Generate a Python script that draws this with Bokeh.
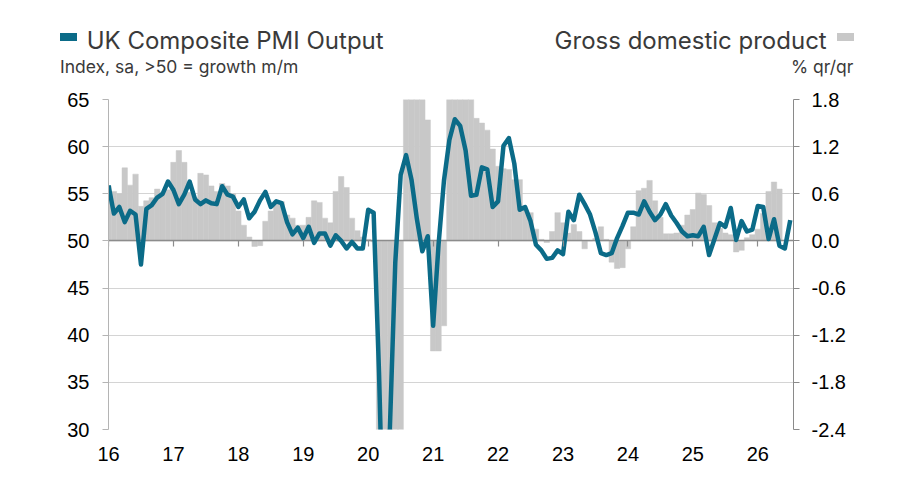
from bokeh.plotting import figure
from bokeh.layouts import column
from bokeh.models import Range1d, LinearAxis, FixedTicker, PrintfTickFormatter, Div
from bokeh.embed import file_html
from bokeh.resources import INLINE

# ---------------- data (monthly, starting Jan 2016) ----------------
START_YEAR = 2016

pmi_2016 = [55.9, 52.9, 53.6, 52.0, 53.2, 52.8, 47.5, 53.4, 53.8, 54.6, 55.0, 56.3]
pmi_2017 = [55.4, 53.9, 54.9, 56.3, 54.4, 53.9, 54.3, 54.0, 53.9, 55.8, 54.9, 54.7]
pmi_2018 = [53.6, 54.4, 52.4, 53.1, 54.3, 55.2, 53.6, 54.2, 54.0, 52.0, 50.7, 51.4]
pmi_2019 = [50.3, 51.5, 49.8, 50.8, 50.8, 49.5, 50.6, 50.0, 49.2, 49.9, 49.2, 49.2]
pmi_2020 = [53.3, 53.0, 36.0, 13.8, 30.0, 47.7, 57.0, 59.1, 56.5, 52.3, 48.9, 50.5]
pmi_2021 = [41.0, 49.6, 56.4, 60.7, 62.9, 62.2, 59.6, 54.8, 54.9, 57.8, 57.6, 53.6]
pmi_2022 = [54.2, 60.1, 60.9, 58.2, 53.3, 53.6, 52.1, 49.6, 49.0, 48.1, 48.2, 49.0]
pmi_2023 = [48.6, 53.1, 52.2, 54.9, 53.9, 52.8, 50.9, 48.7, 48.5, 48.7, 50.3, 51.6]
pmi_2024 = [53.0, 53.0, 52.8, 54.2, 53.1, 52.2, 52.8, 53.9, 52.7, 51.9, 51.0, 50.5]
pmi_2025 = [50.6, 50.5, 51.5, 48.5, 50.2, 51.9, 51.5, 53.5, 50.1, 52.1, 51.0, 51.2]
pmi_2026 = [53.7, 53.6, 50.2, 52.3, 49.5, 49.2, 52.2]

gdp_2016 = [0.70, 0.63, 0.60, 0.93, 0.71, 0.85, 0.44, 0.51, 0.55, 0.66, 0.62, 0.65]
gdp_2017 = [1.00, 1.15, 1.00, 0.62, 0.55, 0.86, 0.84, 0.70, 0.63, 0.73, 0.70, 0.60]
gdp_2018 = [0.38, 0.20, 0.05, -0.07, -0.06, 0.25, 0.38, 0.50, 0.50, 0.33, 0.29, 0.20]
gdp_2019 = [0.20, 0.30, 0.51, 0.49, 0.29, 0.23, 0.63, 0.82, 0.68, 0.29, 0.13, 0.05]
gdp_2020 = [0.02, -0.01, -2.6, -10.0, -19.5, -20.0, -8.0, 8.0, 15.0, 14.0, 4.0, 1.54]
gdp_2021 = [-1.40, -1.40, -1.08, 3.0, 4.5, 4.8, 3.6, 2.5, 1.56, 1.50, 1.41, 1.17]
gdp_2022 = [0.95, 0.92, 0.91, 0.78, 0.78, 0.40, 0.36, 0.15, 0.02, -0.02, 0.12, 0.36]
gdp_2023 = [0.23, 0.10, 0.21, 0.12, -0.10, 0.00, 0.03, 0.18, 0.02, -0.27, -0.35, -0.34]
gdp_2024 = [-0.10, 0.18, 0.64, 0.67, 0.77, 0.51, 0.30, 0.09, 0.09, 0.10, 0.20, 0.33]
gdp_2025 = [0.40, 0.61, 0.59, 0.45, 0.23, 0.16, 0.10, 0.08, -0.14, -0.12, 0.04, 0.08]
gdp_2026 = [0.15, 0.35, 0.63, 0.75, 0.66]

years = list(range(2016, 2027))
year_labels = ["16", "17", "18", "19", "20", "21", "22", "23", "24", "25", "26"]
left_ticks = [30, 35, 40, 45, 50, 55, 60, 65]
right_ticks = [-2.4, -1.8, -1.2, -0.6, 0.0, 0.6, 1.2, 1.8]
PMI_NEUTRAL = 50

pmi_title = "UK Composite PMI Output"
pmi_sub = "Index, sa, &gt;50 = growth m/m"
gdp_title = "Gross domestic product"
gdp_sub = "% qr/qr"

pmi = (pmi_2016 + pmi_2017 + pmi_2018 + pmi_2019 + pmi_2020 + pmi_2021 +
       pmi_2022 + pmi_2023 + pmi_2024 + pmi_2025 + pmi_2026)
gdp = (gdp_2016 + gdp_2017 + gdp_2018 + gdp_2019 + gdp_2020 + gdp_2021 +
       gdp_2022 + gdp_2023 + gdp_2024 + gdp_2025 + gdp_2026)
months_pmi = list(range(len(pmi)))
months_gdp = list(range(len(gdp)))
year_pos = [12 * (y - START_YEAR) for y in years]

TEAL = "#0b6b88"
GREY_BAR = "#c8c8c8"
TXT = "#3a3a3a"
LEG_FONT = "Inter"
TICK_FONT = "Liberation Sans"
W = 884
HEAD_H = 87


# ---------------- header (legend) as positioned HTML ----------------
def txt(text, top, size, left=None, right=None):
    pos = f"left:{left}px;" if left is not None else f"right:{right}px;"
    return (f'<span style="position:absolute;{pos}top:{top}px;font-size:{size}px;'
            f'line-height:{size}px;white-space:nowrap;">{text}</span>')


def box(left, top, w, hgt, color):
    return (f'<div style="position:absolute;left:{left}px;top:{top}px;width:{w}px;'
            f'height:{hgt}px;background:{color};"></div>')


header_html = (
    f'<div style="position:relative;width:{W}px;height:{HEAD_H}px;'
    f'font-family:{LEG_FONT},sans-serif;color:{TXT};margin:0;padding:0;">'
    + box(60, 33.3, 17, 7.4, TEAL)
    + txt(pmi_title, 29.3, 24, left=86.7)
    + txt(pmi_sub, 58.2, 17.5, left=60)
    + txt(gdp_title, 28.8, 24, right=W - 826.7)
    + txt(gdp_sub, 57.9, 17.5, right=W - 853.3)
    + box(836.7, 33.3, 17.3, 7.4, GREY_BAR)
    + '</div>'
)
header = Div(text=header_html, width=W, height=HEAD_H, margin=(0, 0, 0, 0))

# ---------------- main chart ----------------
p = figure(width=W, height=485 - HEAD_H, output_backend="svg", toolbar_location=None,
           x_range=Range1d(0, 126.6), y_range=Range1d(30, 65),
           min_border_left=108, min_border_right=91, min_border_top=12,
           min_border_bottom=56, background_fill_color="white",
           border_fill_color="white", margin=(0, 0, 0, 0))
p.outline_line_color = None
p.extra_y_ranges = {"gdp": Range1d(-2.4, 1.8)}

p.xgrid.visible = False
p.ygrid.grid_line_color = "#d4d4d4"
p.ygrid.grid_line_width = 1

# left axis
p.yaxis.ticker = FixedTicker(ticks=left_ticks)
p.yaxis.axis_line_color = "#b4b4b4"
p.yaxis.major_tick_line_color = "#b4b4b4"
p.yaxis.major_tick_out = 6
p.yaxis.major_tick_in = 0
p.yaxis.minor_tick_line_color = None
p.yaxis.major_label_standoff = 13
p.yaxis.major_label_text_font = TICK_FONT
p.yaxis.major_label_text_font_size = "20px"
p.yaxis.major_label_text_color = "#000000"

# right axis
rax = LinearAxis(y_range_name="gdp", ticker=FixedTicker(ticks=right_ticks),
                 formatter=PrintfTickFormatter(format="%.1f"))
rax.axis_line_color = "#8a8a8a"
rax.major_tick_line_color = "#8a8a8a"
rax.major_tick_out = 6
rax.major_tick_in = 0
rax.minor_tick_line_color = None
rax.major_label_standoff = 12
rax.major_label_text_font = TICK_FONT
rax.major_label_text_font_size = "20px"
rax.major_label_text_color = "#000000"
p.add_layout(rax, "right")

# bottom axis (labels only)
p.xaxis.ticker = FixedTicker(ticks=year_pos)
p.xaxis.major_label_overrides = {pos: lab for pos, lab in zip(year_pos, year_labels)}
p.xaxis.axis_line_color = None
p.xaxis.major_tick_line_color = None
p.xaxis.minor_tick_line_color = None
p.xaxis.major_label_standoff = 11
p.xaxis.major_label_text_font = TICK_FONT
p.xaxis.major_label_text_font_size = "20px"
p.xaxis.major_label_text_color = "#000000"

# year ticks on the 50 line
tax = LinearAxis(fixed_location=PMI_NEUTRAL, ticker=FixedTicker(ticks=year_pos))
tax.major_label_overrides = {pos: "" for pos in year_pos}
tax.major_label_text_font_size = "0px"
tax.major_label_standoff = 0
tax.axis_line_color = None
tax.major_tick_line_color = "#8c8c8c"
tax.major_tick_line_width = 1.2
tax.major_tick_out = 6
tax.major_tick_in = 0
tax.minor_tick_line_color = None
p.add_layout(tax, "below")

# GDP bars
p.vbar(x=months_gdp, top=gdp, bottom=0, width=1, y_range_name="gdp",
       fill_color=GREY_BAR, line_color=GREY_BAR, line_width=0.5)

# 50 line
p.hspan(y=[PMI_NEUTRAL], line_color="#8c8c8c", line_width=1.5)

# PMI line
p.line(months_pmi, pmi, line_color=TEAL, line_width=4.5, line_join="round")

layout = column(header, p, spacing=0)
open("out.html", "w").write(file_html(layout, INLINE))
